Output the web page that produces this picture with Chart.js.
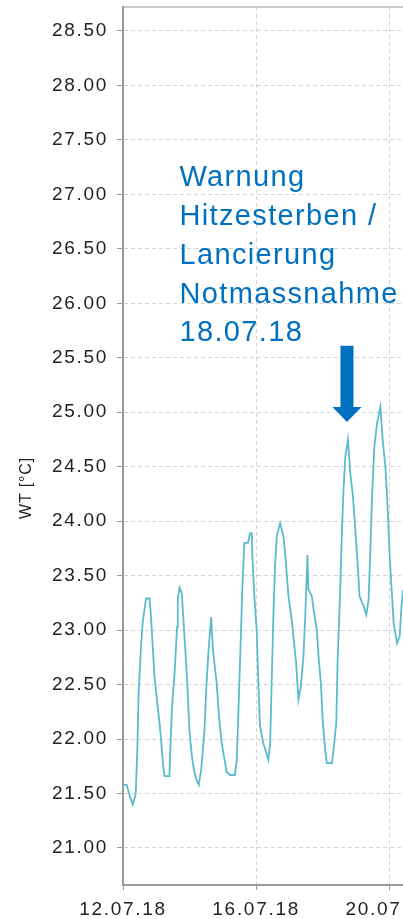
<!DOCTYPE html>
<html>
<head>
<meta charset="utf-8">
<script src="https://cdn.jsdelivr.net/npm/chart.js@4/dist/chart.umd.min.js"></script>
<style>
  html, body { margin: 0; padding: 0; overflow: hidden; background: #fff; }
  #wrap { position: relative; width: 460px; height: 919px; }
</style>
</head>
<body>
<div id="wrap"><canvas id="wtChart"></canvas></div>
<script>
// water temperature, hours since 12.07.18 00:00
const HOURS = [
  0, 2.7, 4.8, 7.0, 9.2, 10.3, 11.3, 13.0, 14.2, 16.6,
  19.1, 20.2, 22.7, 26.3, 27.5, 28.7, 29.9, 33.5, 34.0, 35.2,
  37.2, 39.0, 39.5, 40.8, 42.4, 43.7, 45.5, 46.8, 48.0, 49.7,
  51.1, 52.8, 54.7, 55.2, 56.4, 58.8, 60.0, 61.7, 63.6, 64.8,
  67.5, 69.4, 71.1, 72.8, 74.7, 77.1, 80.7, 82.0, 83.1, 84.9,
  86.0, 87.5, 90.1, 91.6, 92.8, 93.3, 94.7, 96.4, 97.6, 98.8,
  101.2, 103.1, 104.8, 106.1, 107.3, 108.4, 109.7, 110.9, 112.0, 113.3,
  115.7, 116.9, 119.3, 121.7, 122.9, 124.8, 126.5, 128.2, 130.1, 131.4,
  133.0, 133.7, 136.2, 137.4, 139.8, 141.0, 142.7, 144.1, 145.8, 147.0,
  150.7, 151.8, 153.8, 154.7, 156.7, 157.9, 159.0, 160.3, 162.2, 163.9,
  165.8, 167.5, 169.2, 170.6, 173.5, 175.4, 177.1, 178.3, 179.5, 181.2,
  183.2, 185.6, 187.2, 189.2, 190.8, 192.3, 194.0, 195.2, 197.6, 199.5,
  200.8, 202.0
];
const TEMPS = [
  21.58, 21.58, 21.48, 21.40, 21.50, 21.90, 22.43, 22.85, 23.07, 23.29,
  23.29, 23.12, 22.57, 22.15, 21.99, 21.79, 21.66, 21.66, 21.87, 22.27,
  22.61, 23.03, 23.28, 23.39, 23.34, 23.07, 22.70, 22.39, 22.06, 21.84,
  21.72, 21.63, 21.58, 21.63, 21.72, 22.09, 22.45, 22.82, 23.12, 22.82,
  22.52, 22.18, 21.97, 21.84, 21.70, 21.67, 21.67, 21.80, 22.21, 22.91,
  23.37, 23.80, 23.80, 23.89, 23.89, 23.68, 23.31, 23.00, 22.51, 22.12,
  21.96, 21.88, 21.81, 21.96, 22.57, 23.12, 23.61, 23.86, 23.92, 23.98,
  23.86, 23.71, 23.31, 23.09, 22.94, 22.70, 22.36, 22.48, 22.76, 23.12,
  23.69, 23.37, 23.31, 23.19, 23.00, 22.76, 22.51, 22.15, 21.90, 21.78,
  21.78, 21.90, 22.15, 22.70, 23.40, 23.92, 24.29, 24.59, 24.75, 24.44,
  24.23, 23.92, 23.61, 23.31, 23.22, 23.14, 23.28, 23.71, 24.20, 24.68,
  24.90, 25.05, 24.75, 24.50, 24.13, 23.68, 23.31, 23.06, 22.88, 22.94,
  23.22, 23.37
];

const Y_TICKS = [21.0, 21.5, 22.0, 22.5, 23.0, 23.5, 24.0, 24.5, 25.0, 25.5, 26.0, 26.5, 27.0, 27.5, 28.0, 28.5];
const X_TICK_HOURS = [0, 96, 192];
const X_TICK_LABELS = ["12.07.18", "16.07.18", "20.07.18"];

const Y_TITLE = "WT [°C]";
const NOTE_LINES = ["Warnung", "Hitzesterben /", "Lancierung", "Notmassnahme", "18.07.18"];
const ARROW_HOUR = 161.5;   // points at the 18.07 peak
const ARROW_TIP = 24.91;
const ARROW_TOP = 25.61;

const LINE_COLOR = "#5bbccd";
const NOTE_COLOR = "#0070c0";
const AXIS_COLOR = "#9a9a9a";
const GRID_COLOR = "#d4d4d4";

/* letter spacing survives canvas resets */
const spacingPlugin = {
  id: "spacing",
  beforeUpdate(chart) { chart.ctx.letterSpacing = "1.7px"; },
  beforeRender(chart) { chart.ctx.letterSpacing = "1.7px"; }
};

/* note text, arrow and rotated y title */
const notePlugin = {
  id: "note",
  afterDraw(chart) {
    const { ctx, scales } = chart;
    const x = scales.x, y = scales.y;
    const tipX = x.getPixelForValue(ARROW_HOUR);
    const tipY = y.getPixelForValue(ARROW_TIP);
    const topY = y.getPixelForValue(ARROW_TOP);

    ctx.save();
    ctx.fillStyle = NOTE_COLOR;
    ctx.fillRect(tipX - 6.5, topY, 13, tipY - topY - 15);
    ctx.beginPath();
    ctx.moveTo(tipX - 14.5, tipY - 15);
    ctx.lineTo(tipX + 14.5, tipY - 15);
    ctx.lineTo(tipX, tipY);
    ctx.closePath();
    ctx.fill();

    ctx.letterSpacing = "1.35px";
    ctx.font = "29px 'Liberation Sans', Arial, sans-serif";
    ctx.textAlign = "left";
    ctx.textBaseline = "alphabetic";
    NOTE_LINES.forEach((t, i) => {
      ctx.fillText(t, tipX - 167.5, topY - 159.3 + i * 38.75);
    });
    ctx.restore();

    ctx.save();
    ctx.letterSpacing = "0.8px";
    ctx.translate(27, 488);
    ctx.rotate(-Math.PI / 2);
    ctx.font = "16px 'Liberation Sans', Arial, sans-serif";
    ctx.fillStyle = "#222";
    ctx.textAlign = "center";
    ctx.textBaseline = "middle";
    ctx.fillText(Y_TITLE, 0, 0);
    ctx.restore();
  }
};

const tickFont = { family: "'Liberation Sans', Arial, sans-serif", size: 19 };

function noPad(s) {
  s.paddingTop = 0;
  s.paddingBottom = 0;
  s.paddingLeft = 0;
  s.paddingRight = 0;
}

new Chart(document.getElementById("wtChart"), {
  type: "line",
  data: {
    datasets: [{
      data: HOURS.map((h, i) => ({ x: h, y: TEMPS[i] })),
      borderColor: LINE_COLOR,
      borderWidth: 1.8,
      pointRadius: 0,
      tension: 0,
      fill: false
    }]
  },
  options: {
    responsive: true,
    maintainAspectRatio: false,
    animation: false,
    layout: { padding: { top: 7, left: 0, right: 0, bottom: 0 } },
    plugins: { legend: { display: false }, tooltip: { enabled: false } },
    scales: {
      x: {
        type: "linear",
        min: 0,
        max: 243,
        afterBuildTicks: s => { s.ticks = X_TICK_HOURS.map(v => ({ value: v })); },
        afterFit: s => { s.height = 34; noPad(s); },
        ticks: {
          color: "#222",
          font: tickFont,
          padding: 8,
          maxRotation: 0,
          callback: (v) => X_TICK_LABELS[X_TICK_HOURS.indexOf(v)]
        },
        grid: { color: GRID_COLOR, tickColor: AXIS_COLOR, tickLength: 5, tickBorderDash: [] },
        border: { color: AXIS_COLOR, width: 2, dash: [4, 3] }
      },
      xTop: {
        type: "linear",
        position: "top",
        min: 0,
        max: 243,
        afterFit: s => { s.height = 0; noPad(s); },
        ticks: { display: false },
        grid: { display: false },
        border: { color: "#cacaca", width: 2 }
      },
      y: {
        min: 20.66,
        max: 28.72,
        afterBuildTicks: s => { s.ticks = Y_TICKS.map(v => ({ value: v })); },
        afterFit: s => { s.width = 123; noPad(s); },
        ticks: {
          color: "#222",
          font: tickFont,
          padding: 9,
          callback: v => v.toFixed(2)
        },
        grid: { color: GRID_COLOR, tickColor: AXIS_COLOR, tickLength: 6, tickBorderDash: [] },
        border: { color: AXIS_COLOR, width: 2, dash: [4, 3] }
      }
    }
  },
  plugins: [spacingPlugin, notePlugin]
});
</script>
</body>
</html>
